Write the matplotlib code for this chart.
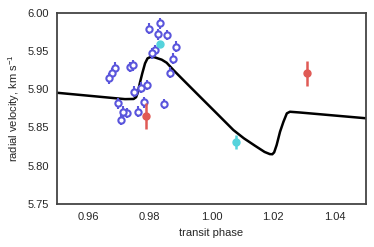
import matplotlib
matplotlib.use("Agg")
import matplotlib.pyplot as plt

plt.rcParams['font.family'] = ['Liberation Sans', 'DejaVu Sans']
plt.rcParams['mathtext.fontset'] = 'custom'
plt.rcParams['mathtext.rm'] = 'Liberation Sans'
plt.rcParams['mathtext.it'] = 'Liberation Sans:italic'

# open blue points
blue_x = [0.9799, 0.9835, 0.9828, 0.9855, 0.9885, 0.9817, 0.9808, 0.9874,
          0.9687, 0.9679, 0.9669, 0.9736, 0.9745, 0.9866, 0.9790, 0.9749,
          0.9772, 0.9698, 0.9781, 0.9846, 0.9725, 0.9714, 0.9763, 0.9706]
blue_y = [5.979, 5.986, 5.9715, 5.9706, 5.9553, 5.951, 5.9467, 5.940,
          5.928, 5.9206, 5.914, 5.929, 5.931, 5.9214, 5.9053, 5.8966,
          5.902, 5.8815, 5.8828, 5.8805, 5.869, 5.8705, 5.8705, 5.8597]
blue_err = 0.007

# filled cyan points
cyan_x = [0.9833, 1.0079]
cyan_y = [5.9585, 5.8313]
cyan_err = [0.004, 0.009]

# filled red points
red_x = [0.9788, 1.0309]
red_y = [5.865, 5.9206]
red_err = [0.017, 0.0165]

# model curve
model_x = [0.950, 0.9720, 0.9748, 0.9756, 0.9762, 0.9768, 0.9776, 0.9785,
           0.9793, 0.9804, 0.9817, 0.9839, 0.9855, 0.9878, 0.9909, 0.9963,
           1.0017, 1.0071, 1.0105, 1.0141, 1.0172, 1.0189, 1.0197, 1.0203,
           1.0211, 1.0222, 1.0233, 1.0244, 1.0254, 1.0287, 1.050]
model_y = [5.8953, 5.8870, 5.8872, 5.8895, 5.8960, 5.9076, 5.9206, 5.9337,
           5.9402, 5.9423, 5.9415, 5.9385, 5.9345, 5.9245, 5.9119, 5.8901,
           5.8684, 5.8466, 5.8358, 5.8261, 5.8180, 5.8152, 5.8150, 5.8175,
           5.8270, 5.8444, 5.8574, 5.8684, 5.8705, 5.8695, 5.8620]

xticks = [0.96, 0.98, 1.00, 1.02, 1.04]
yticks = [5.75, 5.80, 5.85, 5.90, 5.95, 6.00]

fig = plt.figure(figsize=(3.74, 2.47), dpi=100)
ax = fig.add_axes([0.1524, 0.174, 0.826, 0.775])

blue = '#5a55dc'
cyan = '#55d3dc'
red = '#e05a55'

ax.plot(model_x, model_y, color='black', lw=1.8, zorder=2,
        solid_joinstyle='round')
ax.errorbar(blue_x, blue_y, yerr=blue_err, fmt='o', color=blue, mfc='white',
            mec=blue, mew=1.5, ms=4.5, elinewidth=1.5, capsize=0, zorder=3)
ax.errorbar(cyan_x, cyan_y, yerr=cyan_err, fmt='o', color=cyan, ecolor=cyan,
            ms=5, elinewidth=1.8, capsize=0, zorder=4)
ax.errorbar(red_x, red_y, yerr=red_err, fmt='o', color=red, ecolor=red,
            ms=5, elinewidth=1.8, capsize=0, zorder=4)

ax.set_xlim(0.95, 1.05)
ax.set_ylim(5.75, 6.00)
ax.set_xticks(xticks)
ax.set_yticks(yticks)
ax.set_xticklabels([f"{t:.2f}" for t in xticks])
ax.set_yticklabels([f"{t:.2f}" for t in yticks])
ax.tick_params(length=0, labelsize=8, colors='#262626', pad=6)
for s in ax.spines.values():
    s.set_color('#444444')
    s.set_linewidth(1.3)
ax.set_xlabel('transit phase', fontsize=8, color='#262626', labelpad=4)
ax.set_ylabel('radial velocity, km s$^{-1}$', fontsize=8, color='#262626', labelpad=4)

fig.savefig('out.png', dpi=100)
